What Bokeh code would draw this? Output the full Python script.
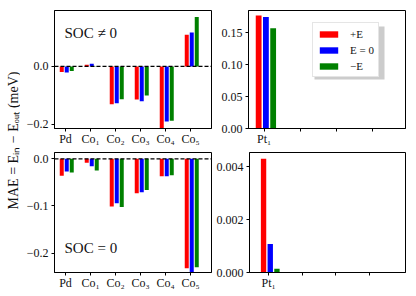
import math
import numpy as np
from bokeh.plotting import figure
from bokeh.layouts import row, column
from bokeh.models import (ColumnDataSource, FixedTicker, Span, Label, Legend,
                          LegendItem, CustomJSTickFormatter, Range1d,
                          BoxAnnotation)
from bokeh.embed import file_html
from bokeh.resources import INLINE

# ---------------- data ----------------
left_cats = ["Pd", "Co₁", "Co₂", "Co₃", "Co₄", "Co₅"]
right_cats = ["Pt₁", "", "", ""]
series = ["+E", "E = 0", "−E"]
colors = ["#ff0000", "#0000ff", "#008000"]

# SOC != 0 (top-left)
soc_plusE = [-0.019, 0.006, -0.130, -0.114, -0.230, 0.109]
soc_zeroE = [-0.021, 0.009, -0.127, -0.120, -0.190, 0.117]
soc_minusE = [-0.016, 0.001, -0.113, -0.100, -0.187, 0.171]

# SOC = 0 (bottom-left)
nosoc_plusE = [-0.036, -0.0085, -0.101, -0.073, -0.037, -0.232]
nosoc_zeroE = [-0.027, -0.0155, -0.094, -0.071, -0.037, -0.245]
nosoc_minusE = [-0.029, -0.025, -0.102, -0.066, -0.035, -0.230]

# Pt1 (right panels)
pt_soc_plusE = [0.177]
pt_soc_zeroE = [0.175]
pt_soc_minusE = [0.157]
pt_nosoc_plusE = [0.00429]
pt_nosoc_zeroE = [0.00108]
pt_nosoc_minusE = [0.00014]

# ---------------- style ----------------
FONT = "Liberation Serif"
OFFSETS = [-0.15, 0.05, 0.25]
BAR_W = 0.16


def make_panel(cats, vals_list, xr, yr, yticks, ydigits, width, height,
               bl, br, bt, bb, zero_line=True):
    p = figure(width=width, height=height, x_range=Range1d(*xr),
               y_range=Range1d(*yr), output_backend="svg",
               toolbar_location=None, min_border=0,
               min_border_left=bl, min_border_right=br,
               min_border_top=bt, min_border_bottom=bb)
    p.xgrid.visible = False
    p.ygrid.visible = False
    p.outline_line_color = "black"
    p.outline_line_width = 1
    p.background_fill_color = "white"
    p.border_fill_color = "white"
    renderers = []
    for vals, off, col in zip(vals_list, OFFSETS, colors):
        xs = [i + off for i in range(len(vals))]
        src = ColumnDataSource(dict(x=xs, top=vals))
        r = p.vbar(x="x", top="top", bottom=0, width=BAR_W, source=src,
                   fill_color=col, line_color=None)
        renderers.append(r)
    if zero_line:
        p.add_layout(Span(location=0, dimension="width", line_color="black",
                          line_dash="4 2", line_width=1.2))
    p.xaxis.ticker = FixedTicker(ticks=list(range(len(cats))))
    p.xaxis.major_label_overrides = {i: c for i, c in enumerate(cats)}
    p.yaxis.ticker = FixedTicker(ticks=yticks)
    p.yaxis.formatter = CustomJSTickFormatter(
        code="return tick.toFixed(%d).replace('-', '\\u2212');" % ydigits)
    for ax in (p.xaxis[0], p.yaxis[0]):
        ax.major_tick_out = 3
        ax.major_tick_in = 0
        ax.minor_tick_out = 0
        ax.minor_tick_in = 0
        ax.axis_line_color = "black"
        ax.major_tick_line_color = "black"
        ax.major_label_text_font = FONT
        ax.major_label_text_font_size = "12px"
        ax.major_label_text_color = "#111111"
    p.xaxis.major_label_standoff = 0
    p.yaxis.major_label_standoff = 3
    return p, renderers


W_LAB = 20
H1 = 150   # top row: frame 10..128
H2 = 144   # bottom row: frame 152..272
TL, _ = make_panel(left_cats, [soc_plusE, soc_zeroE, soc_minusE],
                   (-0.44, 5.84), (-0.214, 0.193), [-0.2, 0.0], 1,
                   193, H1, 34, 2, 10, 22)
TR, tr_r = make_panel(right_cats, [pt_soc_plusE, pt_soc_zeroE, pt_soc_minusE],
                      (-0.43, 3.9), (0.0, 0.185), [0.0, 0.05, 0.10, 0.15], 2,
                      195, H1, 35, 3, 10, 22)
BL, _ = make_panel(left_cats, [nosoc_plusE, nosoc_zeroE, nosoc_minusE],
                   (-0.44, 5.84), (-0.241, 0.0134), [-0.2, -0.1, 0.0], 1,
                   193, H2, 34, 2, 2, 22)
BR, _ = make_panel(right_cats, [pt_nosoc_plusE, pt_nosoc_zeroE, pt_nosoc_minusE],
                   (-0.57, 4.09), (0.0, 0.00453), [0.0, 0.002, 0.004], 3,
                   195, H2, 35, 3, 2, 22)

TL.add_layout(Label(x=-0.04, y=0.114, text="SOC ≠ 0", text_font=FONT,
                    text_font_size="15px", text_baseline="middle",
                    text_color="#111111"))
BL.add_layout(Label(x=-0.04, y=-0.190, text="SOC = 0", text_font=FONT,
                    text_font_size="15px", text_baseline="middle",
                    text_color="#111111"))

# legend shadow (frame-relative screen units)
TR.add_layout(BoxAnnotation(left=66, right=136, bottom=49, top=102,
                            left_units="screen", right_units="screen",
                            top_units="screen", bottom_units="screen",
                            fill_color="#999999", fill_alpha=0.5,
                            line_color=None))

legend = Legend(items=[LegendItem(label=s, renderers=[r])
                       for s, r in zip(series, tr_r)],
                location=(64, 51), margin=0, padding=4, spacing=3,
                glyph_width=23, glyph_height=8, label_height=13,
                label_standoff=10, label_text_font=FONT,
                label_text_font_size="11px", label_text_color="#111111",
                border_line_color="#cccccc", border_line_width=1,
                background_fill_color="white", background_fill_alpha=1)
TR.add_layout(legend)

# y-axis label figure
H_TOT = H1 + H2
lab = figure(width=W_LAB, height=H_TOT, x_range=Range1d(0, W_LAB),
             y_range=Range1d(0, H_TOT), x_axis_type=None, y_axis_type=None,
             output_backend="svg", toolbar_location=None, min_border=0)
lab.outline_line_color = None
lab.xgrid.visible = False
lab.ygrid.visible = False
lab.add_layout(Label(x=13, y=H_TOT - 140, text="MAE = Eᵢₙ − Eₒᵤₜ (meV)",
                     angle=math.pi / 2, text_align="center",
                     text_baseline="middle", text_font=FONT,
                     text_font_size="14px", text_color="#111111"))

p = row(lab, column(row(TL, TR), row(BL, BR)))

open("out.html", "w").write(file_html(p, INLINE))
